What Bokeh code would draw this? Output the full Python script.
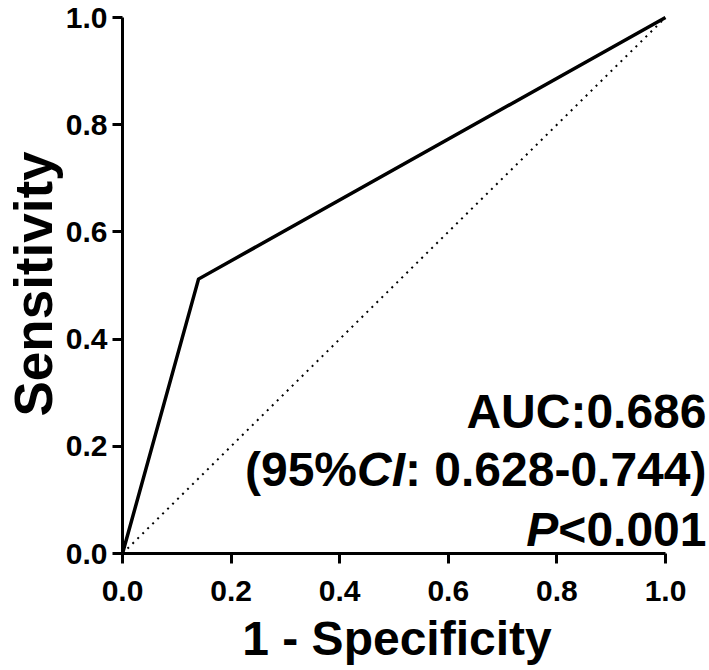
from bokeh.plotting import figure
from bokeh.models import Range1d, FixedTicker, Label, Title
from bokeh.embed import file_html
from bokeh.resources import INLINE

# ---- data ----
fpr = [0.0, 0.14, 1.0]          # 1 - Specificity
tpr = [0.0, 0.512, 1.0]         # Sensitivity
ref_x = [0.0, 1.0]
ref_y = [0.0, 1.0]
ticks = [0.0, 0.2, 0.4, 0.6, 0.8, 1.0]
tick_labels = ["0.0", "0.2", "0.4", "0.6", "0.8", "1.0"]
x_title = "1 - Specificity"
y_title = "Sensitivity"
auc_text = "AUC:0.686"
ci_parts = ["(95%", "CI", ": 0.628-0.744)"]
p_parts = ["P", "<0.001"]

FONT = "Liberation Sans"

# Arial/Liberation Sans Bold advance widths (1/1000 em)
W = {'(': 333, ')': 333, '%': 889, 'C': 722, 'I': 278, ':': 333, ' ': 278,
     '.': 278, '-': 333, '<': 584, 'P': 667, 'A': 722, 'U': 722, 'S': 667,
     'p': 611, 'e': 556, 'c': 556, 'i': 278, 'f': 333, 't': 333, 'y': 556,
     '1': 556}
for d in "0123456789":
    W[d] = 556


def tw(s, size):
    return sum(W.get(c, 556) for c in s) * size / 1000.0


p = figure(width=709, height=670, output_backend="svg", toolbar_location=None,
           x_range=Range1d(0, 1.0792), y_range=Range1d(0, 1.0056),
           min_border_left=122, min_border_right=1, min_border_top=14,
           min_border_bottom=115)
p.outline_line_color = None
p.grid.visible = False
p.background_fill_color = "white"

p.line(ref_x, ref_y, line_color="black", line_width=2, line_dash="2 5")
p.line(fpr, tpr, line_color="black", line_width=3.5, line_join="miter")

for ax in (p.xaxis, p.yaxis):
    ax.ticker = FixedTicker(ticks=ticks)
    ax.major_label_overrides = {t: l for t, l in zip(ticks, tick_labels)}
    ax.bounds = (0, 1)
    ax.axis_line_width = 3
    ax.major_tick_line_width = 3
    ax.major_tick_out = 10
    ax.major_tick_in = 0
    ax.minor_tick_line_color = None
    ax.major_label_text_font = FONT
    ax.major_label_text_font_style = "bold"
    ax.major_label_text_font_size = "30px"
    ax.major_label_text_color = "black"

p.xaxis.major_label_standoff = 17
p.yaxis.major_label_standoff = 5

p.yaxis.axis_label = y_title
p.yaxis.axis_label_text_font = FONT
p.yaxis.axis_label_text_font_style = "bold"
p.yaxis.axis_label_text_font_size = "53px"
p.yaxis.axis_label_text_color = "black"
p.yaxis.axis_label_standoff = 0

# x-axis title, centred on the 0..1 axis (frame is wider to hold the notes)
XT_SIZE = 48
axis_len_px = 543
p.add_layout(Title(text=x_title, align="left",
                   offset=(axis_len_px - tw(x_title, XT_SIZE)) / 2 + 3,
                   text_font=FONT, text_font_style="bold",
                   text_font_size=f"{XT_SIZE}px", text_color="black",
                   standoff=12),
             "below")

SIZE = 48
XOFF = 41  # px to the right of x = 1.0


def add_label(text, y, xoff, italic=False):
    p.add_layout(Label(x=1.0, y=y, x_offset=xoff, text=text,
                       text_font=FONT,
                       text_font_style="bold italic" if italic else "bold",
                       text_font_size=f"{SIZE}px", text_color="black",
                       text_align="right", text_baseline="alphabetic"))


add_label(auc_text, 0.264, XOFF)

off = XOFF
for part in reversed(ci_parts):
    add_label(part, 0.156, off, italic=(part == "CI"))
    off -= tw(part, SIZE)

off = XOFF
for part in reversed(p_parts):
    add_label(part, 0.044, off, italic=(part == "P"))
    off -= tw(part, SIZE)

open("out.html", "w").write(file_html(p, INLINE))
